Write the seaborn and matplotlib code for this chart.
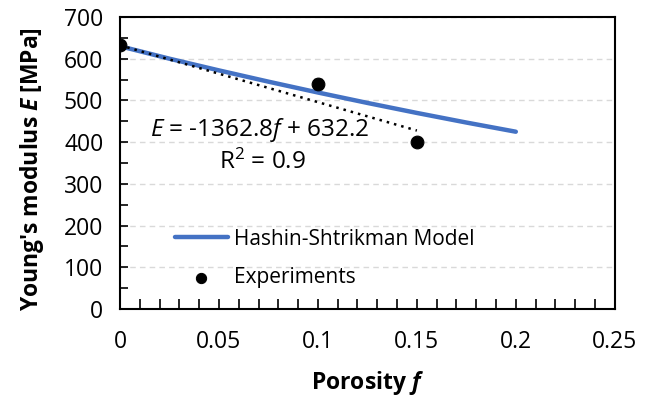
import matplotlib
matplotlib.use("Agg")
import matplotlib.pyplot as plt
import seaborn as sns
import numpy as np
import pandas as pd
from matplotlib.ticker import MultipleLocator

# Data
hs_porosity = [0, 0.025, 0.05, 0.075, 0.1, 0.125, 0.15, 0.175, 0.2]
hs_modulus = [630, 600, 572, 545, 519, 494, 470, 447, 425]
exp_porosity = [0, 0.1, 0.15]
exp_modulus = [633, 540, 401]
exp_err = [10, 12, 6]
trend_slope = -1362.8
trend_intercept = 632.2
trend_range = [0, 0.15]
x_ticks = [0, 0.05, 0.1, 0.15, 0.2, 0.25]
x_tick_labels = ["0", "0.05", "0.1", "0.15", "0.2", "0.25"]

sns.set_theme(style="white")
FONT = 'Open Sans'
plt.rcParams['font.family'] = [FONT, 'DejaVu Sans']
plt.rcParams['text.color'] = 'black'
plt.rcParams['axes.labelcolor'] = 'black'
plt.rcParams['mathtext.fontset'] = 'custom'
plt.rcParams['mathtext.rm'] = FONT
plt.rcParams['mathtext.it'] = FONT + ':italic'
plt.rcParams['mathtext.bf'] = FONT + ':bold'
plt.rcParams['mathtext.bfit'] = FONT + ':italic:bold'

fig = plt.figure(figsize=(6.54, 4.0), dpi=100)
ax = fig.add_axes([0.1835, 0.2275, 0.7565, 0.73])

hs_df = pd.DataFrame({"f": hs_porosity, "E": hs_modulus})
exp_df = pd.DataFrame({"f": exp_porosity, "E": exp_modulus})

ax.yaxis.grid(True, color="#d9d9d9", linestyle=(0, (4, 3)), linewidth=1.0)
ax.set_axisbelow(True)

sns.lineplot(data=hs_df, x="f", y="E", ax=ax, color="#4472C4", linewidth=3.2,
             label="Hashin-Shtrikman Model", zorder=3)

tf = np.array(trend_range)
ax.plot(tf, trend_slope * tf + trend_intercept, color="black", linestyle=(0, (1, 2)),
        linewidth=1.8, zorder=4)

ax.errorbar(exp_porosity, exp_modulus, yerr=exp_err, fmt="none", ecolor="black",
            elinewidth=1.2, capsize=3, zorder=4)
sns.scatterplot(data=exp_df, x="f", y="E", ax=ax, color="black", s=85,
                edgecolor="black", label="Experiments", zorder=5)

ax.set_xlim(0, 0.25)
ax.set_ylim(0, 700)
ax.xaxis.set_minor_locator(MultipleLocator(0.01))
ax.yaxis.set_major_locator(MultipleLocator(100))
ax.yaxis.set_minor_locator(MultipleLocator(50))
ax.set_xticks(x_ticks)
ax.set_xticklabels(x_tick_labels)
ax.tick_params(axis="both", which="both", direction="in", labelsize=16.5,
               colors="black", width=1.2)
ax.tick_params(axis="x", which="both", length=7, bottom=True, pad=15)
ax.tick_params(axis="y", which="both", length=6, left=True, pad=12)

for s in ax.spines.values():
    s.set_color("black")
    s.set_linewidth(1.5)

ax.set_xlabel(r"Porosity $\mathbfit{f}$", fontsize=16.5, fontweight="bold")
ax.set_ylabel(r"Young's modulus $\mathbfit{E}$ [MPa]", fontsize=16.5, fontweight="bold")
ax.xaxis.set_label_coords(0.5, -0.205)
ax.yaxis.set_label_coords(-0.15, 0.48)

ax.text(0.0705, 429, r"$E$ = -1362.8$f$ + 632.2", fontsize=17.5, ha="center", va="center")
ax.text(0.072, 352, r"R$^2$ = 0.9", fontsize=17.5, ha="center", va="center")

leg = ax.legend(loc="center left", bbox_to_anchor=(0.111, 0.173), frameon=False,
                fontsize=15, handlelength=2.55, labelspacing=0.85, handletextpad=0.3,
                borderpad=0, borderaxespad=0, markerscale=0.8)
for t in leg.get_texts():
    t.set_color("black")

fig.savefig("out.png", dpi=100)
